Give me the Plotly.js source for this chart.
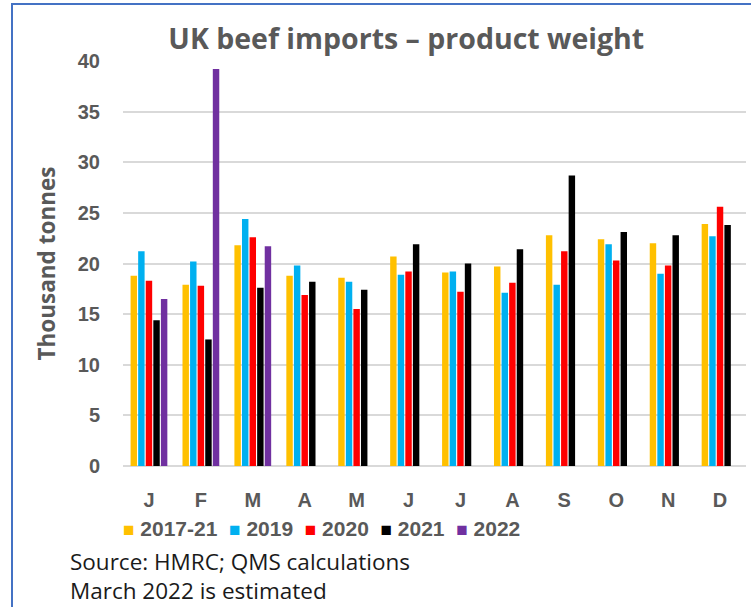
<!DOCTYPE html>
<html>
<head>
<meta charset="utf-8">
<script src="https://cdn.plot.ly/plotly-3.0.1.min.js"></script>
<style>
  html, body { margin: 0; padding: 0; background: #fff; }
  #chart { width: 751px; height: 607px; }
  #frame { position: absolute; left: 11px; top: 3px; width: 800px; height: 700px;
           border-left: 2px solid #4472C4; border-top: 2px solid #4472C4; pointer-events: none; }
</style>
</head>
<body>
<div id="chart"></div>
<div id="frame"></div>
<script>
const months = ['Jan','Feb','Mar','Apr','May','Jun','Jul','Aug','Sep','Oct','Nov','Dec'];
const monthLabels = ['J','F','M','A','M','J','J','A','S','O','N','D'];
const yTicks = [0, 5, 10, 15, 20, 25, 30, 35, 40];

const avg1721 = [18.8, 17.9, 21.8, 18.8, 18.6, 20.7, 19.1, 19.7, 22.8, 22.4, 22.0, 23.9];
const y2019   = [21.2, 20.2, 24.4, 19.8, 18.2, 18.9, 19.2, 17.1, 17.9, 21.9, 19.0, 22.7];
const y2020   = [18.3, 17.8, 22.6, 16.9, 15.5, 19.2, 17.2, 18.1, 21.2, 20.3, 19.8, 25.6];
const y2021   = [14.4, 12.5, 17.6, 18.2, 17.4, 21.9, 20.0, 21.4, 28.7, 23.1, 22.8, 23.8];
const y2022   = [16.5, 39.2, 21.7, null, null, null, null, null, null, null, null, null];

const seriesNames = ['2017-21', '2019', '2020', '2021', '2022'];
const seriesValues = [avg1721, y2019, y2020, y2021, y2022];
const seriesColors = ['#FFC000', '#00B0F0', '#FF0000', '#000000', '#7030A0'];

const traces = seriesNames.map((n, i) => ({
  type: 'bar',
  name: n,
  x: months,
  y: seriesValues[i],
  marker: { color: seriesColors[i] },
  hoverinfo: 'x+y+name'
}));

const legendText = seriesNames.map((n, i) =>
  `<span style="color:${seriesColors[i]};font-size:19px">■</span>&nbsp;${n}`).join('&nbsp;&nbsp;');

const grey = '#595959';
const arialB = { family: 'Liberation Sans, Arial, sans-serif', size: 20, color: grey, weight: 'bold' };
const layout = {
  width: 751, height: 607,
  margin: { l: 123, r: 5, t: 61, b: 141 },
  paper_bgcolor: '#ffffff', plot_bgcolor: '#ffffff',
  barmode: 'group',
  bargap: 0.27,
  bargroupgap: 0.15,
  showlegend: false,
  title: {
    text: 'UK beef imports – product weight',
    font: { family: 'Open Sans, sans-serif', size: 28.5, color: grey, weight: 'bold' },
    x: 0.541, xanchor: 'center', y: 0.935, yanchor: 'middle'
  },
  xaxis: {
    type: 'category',
    categoryorder: 'array', categoryarray: months,
    tickvals: months, ticktext: monthLabels,
    tickfont: arialB,
    ticks: '', ticklabelstandoff: 20,
    showgrid: false, zeroline: false, showline: false
  },
  yaxis: {
    range: [0, 40],
    tickvals: yTicks,
    tickfont: arialB,
    ticks: '', ticklabelstandoff: 22,
    showgrid: true, gridcolor: '#d9d9d9', gridwidth: 2,
    zeroline: true, zerolinecolor: '#d9d9d9', zerolinewidth: 2,
    showline: false
  },
  annotations: [
    {
      text: 'Thousand tonnes', textangle: -90,
      xref: 'paper', yref: 'paper', x: -0.122, y: 0.5,
      xanchor: 'center', yanchor: 'middle', showarrow: false,
      font: { family: 'Open Sans, sans-serif', size: 22.5, color: grey, weight: 'bold' }
    },
    {
      text: legendText,
      xref: 'paper', yref: 'paper', x: -0.003, y: -0.154,
      xanchor: 'left', yanchor: 'middle', showarrow: false,
      font: { family: 'Liberation Sans, Arial, sans-serif', size: 21, color: grey, weight: 'bold' }
    },
    {
      text: 'Source: HMRC; QMS calculations',
      xref: 'paper', yref: 'paper', x: -0.0875, y: -0.236,
      xanchor: 'left', yanchor: 'middle', showarrow: false,
      font: { family: 'Open Sans, sans-serif', size: 22.5, color: '#1a1a1a' }
    },
    {
      text: 'March 2022 is estimated',
      xref: 'paper', yref: 'paper', x: -0.0875, y: -0.308,
      xanchor: 'left', yanchor: 'middle', showarrow: false,
      font: { family: 'Open Sans, sans-serif', size: 22.5, color: '#1a1a1a' }
    }
  ]
};

Plotly.newPlot('chart', traces, layout, { displayModeBar: false, staticPlot: true });
</script>
</body>
</html>
